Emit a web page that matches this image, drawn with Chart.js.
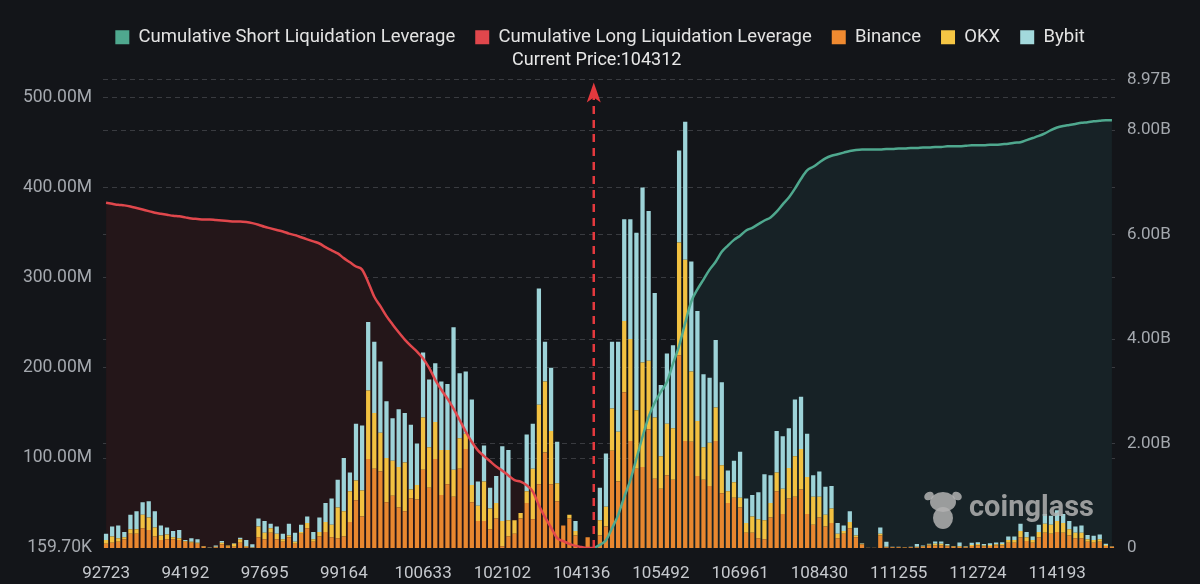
<!DOCTYPE html>
<html>
<head>
<meta charset="utf-8">
<script src="https://cdn.jsdelivr.net/npm/chart.js@4.4.1/dist/chart.umd.min.js"></script>
<style>
    html, body { margin: 0; padding: 0; background: #131519; }
    #wrap { width: 1200px; height: 584px; }
</style>
</head>
<body>
<div id="wrap"><canvas id="my-chart"></canvas></div>
<script>
// * Liquidation map: stacked exchange bars + cumulative leverage lines

// x labels shown every 13 bins
const tickLabels = ['92723', '94192', '97695', '99164', '100633', '102102', '104136',
    '105492', '106961', '108430', '111255', '112724', '114193']
const tickStep = 13

// liquidation leverage per price bin, in millions
const binance = [5,6,7,10,16,16,22,20,13,9, 10,10,9,7,6,5,1.5,0.2,1,4,
    1.5,1.5,6,1,0.5,12,10,17,10,7, 12,5,16,22,7,13,18,12,11,13,
    29,53,35,99,88,85,51,58,45,41, 55,54,87,67,99,59,71,57,88,110,
    51,30,30,21,33,2,13,16,33,50, 32,71,106,71,52,25,33,14,0.4,12,
    0,14,24,108,74,173,119,88,90,132, 77,66,81,76,214,119,118,80,76,69,
    119,61,50,56,45,17,17,11,10,34, 63,38,55,57,65,38,26,34,24,28,
    11,16,22,12,4,0.3,0.5,14,1,1, 1,0.7,1,1,1.5,3,3,3,2,1.5,
    1.5,1,2.5,3,2,2.5,3,3,6,6, 12,8,6,12,17,16,18,17,14,11,
    11,7,6,7,2.5,1.5]
const okx = [4,7,4,2,5,5,15,14,10,5, 5,2,2,1,1,1,0.5,0.1,0.5,2,
    1.5,3.5,4,1,0.3,12,7,5,6,3, 2,2,2,6,3,5,11,14,34,28,
    34,22,29,76,62,43,49,39,45,54, 10,16,58,45,41,50,38,30,34,17,
    19,17,44,23,17,28,18,15,6,13, 56,88,79,59,20,0,4,5,0,0,
    0,17,22,47,55,79,113,65,116,76, 68,36,57,57,125,201,78,61,36,48,
    37,31,13,17,11,11,18,21,21,16, 21,28,34,45,45,41,31,23,13,16,
    5,3,7,2,1,0,0,2,0.5,0.3, 0.3,0.2,0.3,0.5,0.5,1,2,2,1,0.5,
    0.8,0.5,1,1.5,1,1,1.3,1.5,3,3, 7,4,3,6,10,10,12,11,7,6,
    6,3,3,3,1,0.3]
const bybit = [7,11,14,6,16,20,14,18,18,11, 8,7,9,1,4,4,0.3,0.3,1.5,2,
    0,0.3,1.5,7,3.5,9,13,5,8,6, 13,10,8,7,8,16,21,29,31,59,
    21,63,72,76,79,79,63,47,64,55, 72,46,72,75,65,76,73,158,72,69,
    95,27,40,23,30,83,78,0,0,63, 50,129,44,70,46,0,0,11,0,0,
    0,36,59,74,100,113,133,197,194,166, 138,79,78,92,102,153,122,122,81,72,
    75,92,23,24,51,27,24,30,51,31, 46,58,44,63,58,48,24,28,31,25,
    12,6,12,8.5,0.3,0,0,7,5.5,0.2, 0.2,0.1,0.2,3,1,1,2.5,2.5,1.5,0.5,
    4,0.5,2.5,2,1.5,2,2,2,4,4, 8,6,4,8,11,10,12,10,9,7,
    8,4.5,4.7,5,1.5,0.2]

// cumulative leverage, in billions
// long: from the first bin up to the current price bin
const longCum = [6.61,6.59,6.57,6.56,6.54,6.51,6.48,6.45,6.42,6.40,
    6.38,6.36,6.35,6.33,6.31,6.30,6.29,6.29,6.28,6.27,
    6.26,6.25,6.25,6.24,6.22,6.19,6.15,6.12,6.09,6.06,
    6.02,5.99,5.95,5.91,5.87,5.83,5.76,5.70,5.64,5.55,
    5.47,5.39,5.33,5.09,4.81,4.63,4.44,4.28,4.13,3.99,
    3.87,3.76,3.63,3.45,3.22,3.03,2.86,2.67,2.45,2.23,
    2.03,1.87,1.76,1.66,1.56,1.48,1.39,1.30,1.27,1.20,
    1.08,0.82,0.59,0.39,0.19,0.13,0.08,0.04,0.02,0,0]
// short: from the current price bin to the last bin
const shortCum = [0,0.06,0.15,0.38,0.63,0.98,1.30,1.71,2.13,2.51,
    2.78,2.99,3.18,3.53,3.87,4.31,4.72,4.95,5.14,5.33,
    5.48,5.67,5.79,5.90,5.98,6.08,6.13,6.20,6.27,6.33,
    6.44,6.58,6.71,6.88,7.07,7.23,7.30,7.38,7.46,7.51,
    7.54,7.57,7.60,7.62,7.63,7.63,7.63,7.63,7.64,7.64,
    7.65,7.65,7.66,7.66,7.67,7.67,7.68,7.68,7.69,7.69,
    7.69,7.70,7.71,7.71,7.71,7.72,7.72,7.73,7.74,7.76,
    7.77,7.81,7.85,7.89,7.94,8.00,8.05,8.08,8.10,8.12,
    8.14,8.15,8.17,8.18,8.19,8.19]

const currentPrice = 104312
const currentIndex = 80

const leftTicks = [0.1597, 100, 200, 300, 400, 500]
const leftMax = 519.9
const rightTicks = [0, 2, 4, 6, 8, 8.97]

const categories = binance.map((_, i) => (i % tickStep === 0 ? tickLabels[i / tickStep] : ''))
const longData = longCum.concat(Array(binance.length - longCum.length).fill(null))
const shortData = Array(currentIndex).fill(null).concat(shortCum)

const ctx = document.getElementById('my-chart')
const gridColor = '#393b40'

// dashed price marker, its label and the watermark
const priceLine = {
    id: 'priceLine',
    afterInit(chart) {
        // push the plot down to leave room for the price label
        const legend = chart.legend
        const fit = legend.fit
        legend.fit = function () {
            fit.call(this)
            this.height += 23
        }
    },
    afterDatasetsDraw(chart) {
        const { ctx, chartArea, scales } = chart
        const x = scales.x.getPixelForValue(currentIndex)
        const top = chartArea.top
        ctx.save()
        ctx.strokeStyle = '#e4393e'
        ctx.fillStyle = '#e4393e'
        ctx.lineWidth = 2.5
        ctx.setLineDash([8, 6])
        ctx.beginPath()
        ctx.moveTo(x, chartArea.bottom)
        ctx.lineTo(x, top + 16)
        ctx.stroke()
        ctx.setLineDash([])
        ctx.beginPath()
        ctx.moveTo(x, top + 3)
        ctx.lineTo(x - 7, top + 23)
        ctx.lineTo(x, top + 18)
        ctx.lineTo(x + 7, top + 23)
        ctx.closePath()
        ctx.fill()

        ctx.fillStyle = '#e8e8e8'
        ctx.font = '18px Roboto'
        ctx.textAlign = 'center'
        ctx.textBaseline = 'middle'
        ctx.fillText('Current Price:' + currentPrice, x + 3, top - 19)

        // coinglass watermark
        const wx = chartArea.right - 172
        const wy = chartArea.bottom - 38
        ctx.fillStyle = 'rgba(178,178,178,0.85)'
        ctx.beginPath()
        ctx.ellipse(wx, wy - 8, 13, 10, 0, 0, Math.PI * 2)
        ctx.fill()
        ctx.beginPath()
        ctx.ellipse(wx - 14, wy - 14, 5, 4, -0.5, 0, Math.PI * 2)
        ctx.ellipse(wx + 14, wy - 14, 5, 4, 0.5, 0, Math.PI * 2)
        ctx.fill()
        ctx.beginPath()
        ctx.ellipse(wx, wy + 8, 10, 11, 0, 0, Math.PI * 2)
        ctx.fill()
        ctx.font = 'bold 29px Roboto'
        ctx.textAlign = 'left'
        ctx.fillText('coinglass', wx + 26, wy - 1)
        ctx.restore()
    }
}

new Chart(ctx, {
    type: 'bar',
    data: {
        labels: categories,
        datasets: [
            {
                type: 'line',
                label: 'Cumulative Short Liquidation Leverage',
                data: shortData,
                yAxisID: 'y1',
                borderColor: '#4fa88e',
                backgroundColor: '#172226',
                legendColor: '#4fa88e',
                borderWidth: 2.5,
                pointRadius: 0,
                cubicInterpolationMode: 'monotone',
                fill: 'origin',
                order: 0
            },
            {
                type: 'line',
                label: 'Cumulative Long Liquidation Leverage',
                data: longData,
                yAxisID: 'y1',
                borderColor: '#e0474c',
                backgroundColor: '#241619',
                legendColor: '#e0474c',
                borderWidth: 2.5,
                pointRadius: 0,
                cubicInterpolationMode: 'monotone',
                fill: 'origin',
                order: 0
            },
            {
                label: 'Binance',
                data: binance,
                backgroundColor: '#e8872f',
                legendColor: '#f08a30',
                stack: 'ex',
                order: 1
            },
            {
                label: 'OKX',
                data: okx,
                backgroundColor: '#f2c141',
                legendColor: '#f6c644',
                stack: 'ex',
                order: 1
            },
            {
                label: 'Bybit',
                data: bybit,
                backgroundColor: '#9dd3d8',
                legendColor: '#a3d9dc',
                stack: 'ex',
                order: 1
            }
        ]
    },
    options: {
        responsive: true,
        maintainAspectRatio: false,
        animation: false,
        layout: { padding: { top: 8, left: 0, right: 0, bottom: 0 } },
        datasets: {
            bar: { categoryPercentage: 1, barPercentage: 0.7 }
        },
        plugins: {
            filler: { drawTime: 'beforeDatasetsDraw' },
            tooltip: { enabled: false },
            legend: {
                position: 'top',
                labels: {
                    color: '#e3e3e3',
                    font: { family: 'Roboto', size: 18.5 },
                    boxWidth: 14,
                    boxHeight: 14,
                    padding: 20,
                    generateLabels(chart) {
                        const items = Chart.defaults.plugins.legend.labels.generateLabels(chart)
                        items.forEach((item) => {
                            const c = chart.data.datasets[item.datasetIndex].legendColor
                            item.fillStyle = c
                            item.strokeStyle = c
                            item.lineWidth = 0
                        })
                        return items
                    }
                }
            }
        },
        scales: {
            x: {
                stacked: true,
                grid: { display: false },
                border: { display: false },
                ticks: {
                    autoSkip: false,
                    maxRotation: 0,
                    color: '#c6c9ce',
                    font: { family: 'Roboto', size: 17 },
                    padding: 8
                },
                afterFit(scale) {
                    scale.height = 36
                }
            },
            y: {
                stacked: true,
                position: 'left',
                min: leftTicks[0],
                max: leftMax,
                afterBuildTicks(axis) {
                    axis.ticks = leftTicks.map((v) => ({ value: v }))
                },
                afterFit(scale) {
                    scale.width = 103
                },
                grid: {
                    color: (c) => (c.tick && c.tick.value === leftTicks[0] ? 'transparent' : gridColor),
                    drawTicks: false
                },
                border: { display: false, dash: [5, 4] },
                ticks: {
                    color: '#a4a8ae',
                    font: { family: 'Roboto', size: 17.5 },
                    padding: 11,
                    callback: (v) => (v < 1 ? (v * 1000).toFixed(2) + 'K' : v.toFixed(2) + 'M')
                }
            },
            y1: {
                position: 'right',
                min: 0,
                max: rightTicks[rightTicks.length - 1],
                afterBuildTicks(axis) {
                    axis.ticks = rightTicks.map((v) => ({ value: v }))
                },
                afterFit(scale) {
                    scale.width = 85
                },
                grid: {
                    color: (c) => (c.tick && c.tick.value === 0 ? 'transparent' : gridColor),
                    drawTicks: false
                },
                border: { display: false, dash: [5, 4] },
                ticks: {
                    color: '#a4a8ae',
                    font: { family: 'Roboto', size: 17 },
                    padding: 12,
                    callback: (v) => (v === 0 ? '0' : v.toFixed(2) + 'B')
                }
            }
        }
    },
    plugins: [priceLine]
})
</script>
</body>
</html>
